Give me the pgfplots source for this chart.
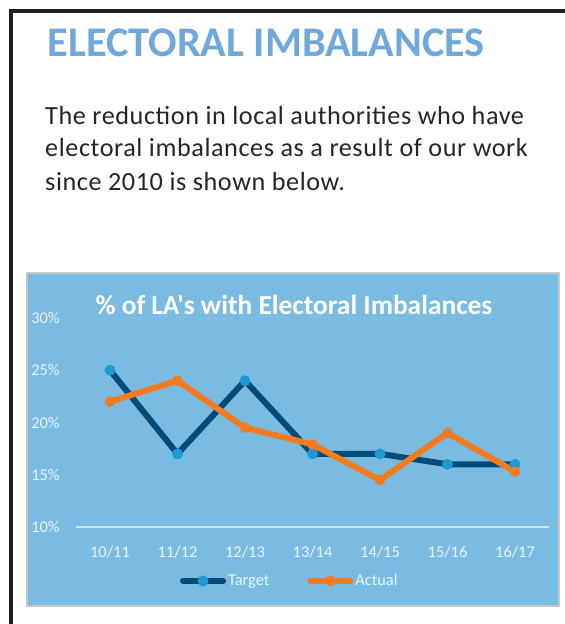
\documentclass[border=0pt]{standalone}
\usepackage{fontspec}
\usepackage{pgfplots}
\pgfplotsset{compat=1.18}
\newfontfamily\carl{Carlito}
\newfontfamily\carlsp{Carlito}[LetterSpace=2.2]
\definecolor{chartbg}{HTML}{7ABBE1}
\definecolor{navy}{HTML}{004B78}
\definecolor{dotblue}{HTML}{1D9AD6}
\definecolor{orng}{HTML}{F47B20}
\definecolor{headblue}{HTML}{6FA8DC}
\definecolor{bodytxt}{HTML}{262626}
\definecolor{gridc}{HTML}{D3E2EC}
\definecolor{ticktxt}{HTML}{E8F2F9}

\begin{document}
\begin{tikzpicture}[x=1bp,y=1bp]
  \path[use as bounding box, fill=white] (0,0) rectangle (565,624);
  % page frame
  \draw[line width=3.5bp, black!88] (11,0) -- (11,613) -- (565,613);
  % heading and intro text
  \node[anchor=base west, inner sep=0, text=headblue, font=\carl\bfseries\fontsize{42.4}{42.4}\selectfont]
    at (47.5,567.3) {ELECTORAL IMBALANCES};
  \begin{scope}[every node/.style={anchor=base west, inner sep=0, text=bodytxt,
      font=\carlsp\fontsize{26.3}{30}\selectfont}]
    \node at (45,499.7) {The reduction in local authorities who have};
    \node at (45,467) {electoral imbalances as a result of our work};
    \node at (45,433) {since 2010 is shown below.};
  \end{scope}
  % chart panel
  \fill[chartbg] (27,18) rectangle (559,351);
  \draw[line width=1.5bp, black!22] (27,18) rectangle (559,351);
  \node[text=white, font=\carl\bfseries\fontsize{27.5}{27.5}\selectfont] at (294,319)
    {\% of LA's with Electoral Imbalances};
  \coordinate (axpos) at (76.25,97);

  \begin{axis}[
      at={(axpos)}, anchor=south west,
      scale only axis, width=472.5bp, height=209bp,
      xmin=-0.5, xmax=6.5, ymin=10, ymax=30,
      axis x line*=bottom, axis y line*=left,
      x axis line style={draw=gridc, line width=1.5bp, -},
      y axis line style={draw=none},
      major tick length=0,
      xtick={0,...,6},
      xticklabels={10/11,11/12,12/13,13/14,14/15,15/16,16/17},
      ytick={10,15,20,25,30},
      yticklabels={10\%,15\%,20\%,25\%,30\%},
      ticklabel style={text=ticktxt},
      xticklabel style={font=\carl\fontsize{16.5}{16.5}\selectfont, yshift=-16bp},
      yticklabel style={font=\carl\fontsize{16.5}{16.5}\selectfont, xshift=-13bp},
      clip=false,
      legend image code/.code={
        \draw[#1, mark repeat=2, mark phase=2] plot coordinates {(0bp,0bp) (20bp,0bp) (40bp,0bp)};},
      legend style={at={(0.452,-0.258)}, anchor=center, legend columns=2,
        draw=none, fill=none, text=ticktxt,
        font=\carl\fontsize{16.5}{16.5}\selectfont,
        /tikz/every even column/.append style={column sep=36bp},
        nodes={inner sep=2bp}},
    ]
    \addplot[navy, line width=6bp, line join=round, line cap=round,
      mark=*, mark size=5.2bp, mark options={solid, fill=dotblue, draw=dotblue, line width=0.5bp}]
      coordinates {(0,25) (1,17) (2,24) (3,17) (4,17) (5,16) (6,16)};
    \addlegendentry{Target}
    \addplot[orng, line width=6bp, line join=round, line cap=round,
      mark=*, mark size=5bp, mark options={solid, fill=orng, draw=orng, line width=0.5bp}]
      coordinates {(0,22) (1,24) (2,19.5) (3,17.9) (4,14.5) (5,19) (6,15.3)};
    \addlegendentry{Actual}
  \end{axis}
\end{tikzpicture}
\end{document}
